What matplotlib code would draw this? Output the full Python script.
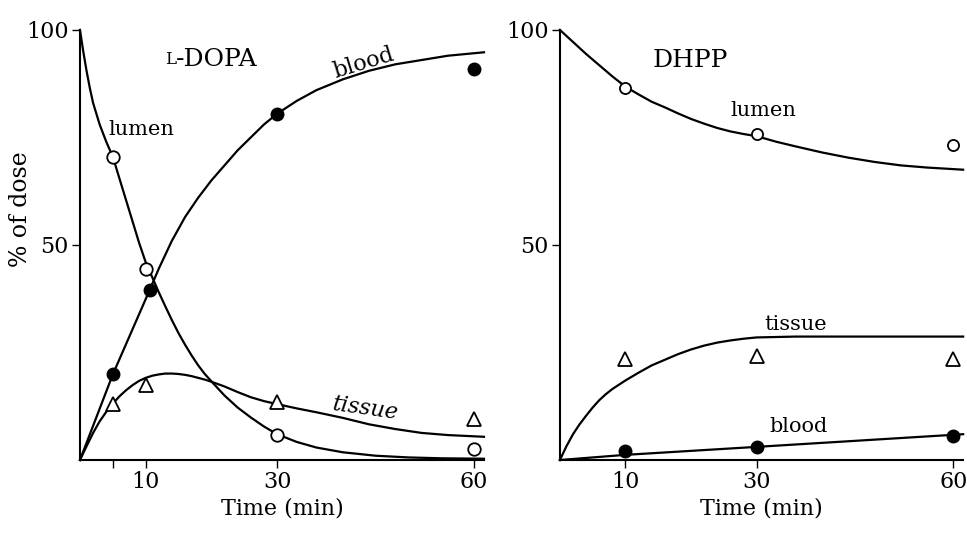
import matplotlib.pyplot as plt

plt.rcParams['font.family'] = 'DejaVu Serif'

# ---- L-DOPA panel: measured points
dopa_t = [5, 10, 30, 60]
dopa_lumen = [70.5, 44.5, 5.8, 2.5]
dopa_blood = [19.9, 39.5, 80.5, 91.0]
dopa_blood_t = [5, 10.6, 30, 60]
dopa_tissue = [13.1, 17.4, 13.4, 9.5]

# ---- L-DOPA fitted curves
dopa_lumen_ct = [0, 0.5, 1, 1.5, 2, 3, 4, 5, 6, 7, 8, 9, 10, 11, 12, 13, 14, 15, 16, 17, 18, 19, 20,
                 22, 24, 26, 28, 30, 33, 36, 40, 45, 50, 55, 61.5]
dopa_lumen_cv = [100, 95, 90.5, 86.5, 83, 78, 74, 70.5, 65.5, 60.5, 55.5, 50.5, 46, 42.5, 39, 35.7, 32.5,
                 29.5, 26.8, 24.3, 22, 20, 18.3, 15, 12.2, 9.9, 7.8, 6, 4.2, 2.9, 1.8, 1.0, 0.6, 0.4, 0.3]
dopa_blood_ct = [0, 5, 10.6, 12, 14, 16, 18, 20, 22, 24, 26, 28, 30, 33, 36, 40, 44, 48, 52, 56, 61.5]
dopa_blood_cv = [0, 19.9, 39.5, 44.5, 51, 56.5, 61, 65, 68.5, 72, 75, 78, 80.5, 83.5, 86, 88.5, 90.5,
                 92, 93, 94, 94.8]
dopa_tissue_ct = [0, 1, 2, 3, 4, 5, 6, 7, 8, 9, 10, 11, 12, 13, 14, 15, 16, 17, 18, 19, 20,
                  22, 24, 26, 28, 30, 33, 36, 40, 44, 48, 52, 56, 61.5]
dopa_tissue_cv = [0, 3.2, 6.3, 9, 11.2, 13.1, 14.8, 16.2, 17.4, 18.4, 19.1, 19.6, 19.9, 20.1, 20.1, 20,
                  19.8, 19.5, 19.1, 18.7, 18.2, 17.1, 15.8, 14.6, 13.7, 13, 12, 11.1, 9.8, 8.3, 7.2,
                  6.3, 5.8, 5.4]

# ---- DHPP panel: measured points
dhpp_t = [10, 30, 60]
dhpp_lumen = [86.6, 75.7, 73.3]
dhpp_tissue = [23.4, 24.2, 23.4]
dhpp_blood = [2.2, 3.1, 5.5]

# ---- DHPP fitted curves
dhpp_lumen_ct = [0, 2, 4, 6, 8, 10, 12, 14, 16, 18, 20, 22, 24, 26, 28, 30, 33, 36, 40, 44, 48, 52,
                 56, 61.5]
dhpp_lumen_cv = [100, 97.2, 94.4, 91.8, 89.2, 86.8, 85, 83.3, 82, 80.6, 79.3, 78.2, 77.2, 76.4, 75.8,
                 75.3, 74, 72.9, 71.5, 70.3, 69.3, 68.5, 68, 67.5]
dhpp_tissue_ct = [0, 1, 2, 3, 4, 5, 6, 7, 8, 10, 12, 14, 16, 18, 20, 22, 24, 26, 28, 30, 33, 36, 45, 61.5]
dhpp_tissue_cv = [0, 3.2, 6, 8.3, 10.3, 12.2, 13.9, 15.3, 16.5, 18.5, 20.3, 22, 23.3, 24.6, 25.7, 26.6,
                  27.3, 27.8, 28.2, 28.5, 28.6, 28.7, 28.7, 28.7]
dhpp_blood_ct = [0, 10, 30.5, 61.5]
dhpp_blood_cv = [0, 1.2, 3.1, 6.0]

fig = plt.figure(figsize=(9.67, 5.41), dpi=100)
ax1 = fig.add_axes([0.0827, 0.1497, 0.4178, 0.795])
ax2 = fig.add_axes([0.579, 0.1497, 0.417, 0.795])

lw = 1.6
ms_c = 9
ms_t = 10


def style_axis(ax, xticks):
    ax.set_xlim(0, 61.5)
    ax.set_ylim(0, 100)
    ax.spines['top'].set_visible(False)
    ax.spines['right'].set_visible(False)
    ax.spines['left'].set_linewidth(1.5)
    ax.spines['bottom'].set_linewidth(1.5)
    ax.set_yticks([50, 100])
    ax.set_yticklabels(['50', '100'])
    ax.set_xticks(xticks)
    ax.set_xticklabels([str(t) if t != 5 else '' for t in xticks])
    ax.tick_params(direction='out', length=6, width=1.0, labelsize=16, pad=2)
    ax.set_xlabel('Time (min)', fontsize=16, labelpad=3)


# L-DOPA
ax1.plot(dopa_lumen_ct, dopa_lumen_cv, color='black', lw=lw, clip_on=False)
ax1.plot(dopa_blood_ct, dopa_blood_cv, color='black', lw=lw, clip_on=False)
ax1.plot(dopa_tissue_ct, dopa_tissue_cv, color='black', lw=lw, clip_on=False)
ax1.plot(dopa_t, dopa_lumen, 'o', ms=ms_c, mfc='white', mec='black', mew=1.3, ls='none', clip_on=False, zorder=3)
ax1.plot(dopa_blood_t, dopa_blood, 'o', ms=ms_c, mfc='black', mec='black', ls='none', clip_on=False, zorder=3)
ax1.plot(dopa_t, dopa_tissue, '^', ms=ms_t, mfc='white', mec='black', mew=1.3, ls='none', clip_on=False, zorder=3)
style_axis(ax1, [5, 10, 30, 60])
ax1.set_ylabel('% of dose', fontsize=17)
ax1.yaxis.set_label_coords(-0.118, 0.584)
ax1.text(14.6, 93.2, 'L', fontsize=12, ha='right', va='center')
ax1.text(14.6, 93.2, '-DOPA', fontsize=18, ha='left', va='center')
ax1.text(9.4, 76.8, 'lumen', fontsize=15, ha='center', va='center')
ax1.text(43.2, 92.2, 'blood', fontsize=16, ha='center', va='center', rotation=17)
ax1.text(43.4, 11.9, 'tissue', fontsize=16, ha='center', va='center', rotation=-8, style='italic')

# DHPP
ax2.plot(dhpp_lumen_ct, dhpp_lumen_cv, color='black', lw=lw, clip_on=False)
ax2.plot(dhpp_tissue_ct, dhpp_tissue_cv, color='black', lw=lw, clip_on=False)
ax2.plot(dhpp_blood_ct, dhpp_blood_cv, color='black', lw=lw, clip_on=False)
ax2.plot(dhpp_t, dhpp_lumen, 'o', ms=ms_c - 1, mfc='white', mec='black', mew=1.3, ls='none', clip_on=False, zorder=3)
ax2.plot(dhpp_t, dhpp_blood, 'o', ms=ms_c, mfc='black', mec='black', ls='none', clip_on=False, zorder=3)
ax2.plot(dhpp_t, dhpp_tissue, '^', ms=ms_t, mfc='white', mec='black', mew=1.3, ls='none', clip_on=False, zorder=3)
style_axis(ax2, [10, 30, 60])
ax2.text(14.1, 92.8, 'DHPP', fontsize=18, ha='left', va='center')
ax2.text(31, 81.3, 'lumen', fontsize=15, ha='center', va='center')
ax2.text(36, 31.6, 'tissue', fontsize=15, ha='center', va='center')
ax2.text(36.4, 7.8, 'blood', fontsize=15, ha='center', va='center')

fig.savefig('out.png', dpi=100)
